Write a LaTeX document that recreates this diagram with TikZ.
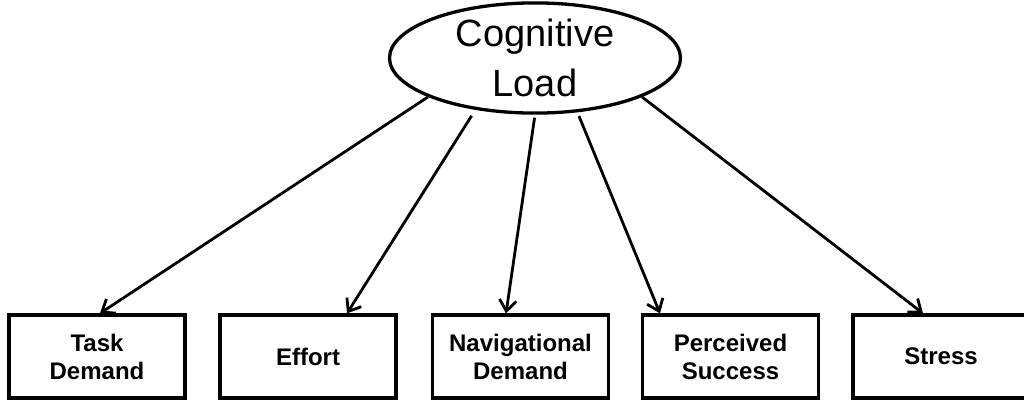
\documentclass[tikz,border=0pt]{standalone}
\usepackage{fontspec}
\setmainfont{Liberation Sans}
\usetikzlibrary{shapes,arrows.meta,positioning}

\begin{document}
\begin{tikzpicture}[
    x=1pt, y=-1pt,
    latentnode/.style={ellipse, draw=black, line width=3.3pt, minimum width=291pt, minimum height=104pt, inner sep=0pt, text centered, align=center, font=\fontsize{38}{50}\selectfont},
    measurebox/.style={rectangle, draw=black, line width=3.3pt, minimum width=176pt, minimum height=83pt, text centered, align=center, font=\fontsize{24}{28}\selectfont\bfseries},
    arrow/.style={line width=2.8pt, -{Straight Barb[length=11pt,width=17pt]}}
]
\useasboundingbox (0,0) rectangle (1024,400);

% Latent variable
\node[latentnode] (load) at (535,58) {Cognitive\\Load};

% Indicators
\node[measurebox] (task) at (97,356.5) {Task\\Demand};
\node[measurebox] (effort) at (308,356.5) {Effort};
\node[measurebox] (nav) at (520.5,356.5) {Navigational\\Demand};
\node[measurebox] (success) at (730.5,356.5) {Perceived\\Success};
\node[measurebox] (stress) at (941,356.5) {Stress};

% Arrows
\draw[arrow] (load.200) -- ([xshift=3pt]task.north);
\draw[arrow, shorten <=7pt] (load.221) -- ([xshift=39pt]effort.north);
\draw[arrow, shorten <=3pt] (load.270) -- ([xshift=-14.5pt]nav.north);
\draw[arrow, shorten <=4pt] (load.308) -- ([xshift=-70.5pt]success.north);
\draw[arrow] (load.340) -- ([xshift=-18pt]stress.north);

\end{tikzpicture}
\end{document}
